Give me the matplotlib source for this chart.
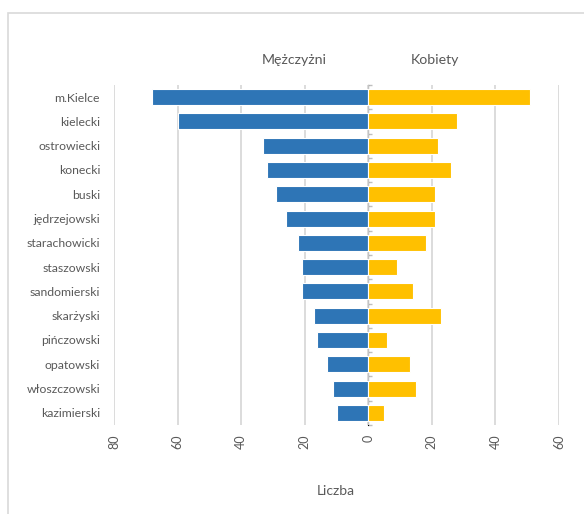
import numpy as np
import matplotlib.pyplot as plt
from matplotlib.patches import Rectangle
from matplotlib.ticker import FuncFormatter

powiaty = ['m.Kielce', 'kielecki', 'ostrowiecki', 'konecki', 'buski',
           'jędrzejowski', 'starachowicki', 'staszowski', 'sandomierski',
           'skarżyski', 'pińczowski', 'opatowski', 'włoszczowski', 'kazimierski']
mezczyzni = [68, 60, 33, 32, 29, 26, 22, 21, 21, 17, 16, 13, 11, 10]
kobiety = [51, 28, 22, 26, 21, 21, 18, 9, 14, 23, 6, 13, 15, 5]
x_ticks = [-80, -60, -40, -20, 0, 20, 40, 60]

grey_txt = '#595959'
plt.rcParams['font.family'] = ['Lato', 'DejaVu Sans']

fig = plt.figure(figsize=(5.84, 5.14), dpi=100)
# ramka wykresu (obcieta z prawej i z dolu)
fig.patches.append(Rectangle((8 / 584, -0.05), 1.1, 1 - 13 / 514 + 0.05,
                             transform=fig.transFigure, fill=False,
                             edgecolor='#D9D9D9', linewidth=1.2))

ax = fig.add_axes([114 / 584, 1 - 425 / 514, (559 - 114) / 584, (425 - 85) / 514])

y = np.arange(len(powiaty))
ax.barh(y, [-m for m in mezczyzni], height=0.66, color='#2E75B6',
        edgecolor='white', linewidth=0.8, zorder=3)
ax.barh(y, kobiety, height=0.66, color='#FFC000',
        edgecolor='white', linewidth=0.8, zorder=3)

ax.set_xlim(-80, 60)
ax.set_ylim(len(powiaty) - 0.5, -0.5)
ax.set_xticks(x_ticks)
ax.xaxis.set_major_formatter(FuncFormatter(lambda v, p: '%d' % abs(v)))
ax.tick_params(axis='x', length=0, labelrotation=90, labelsize=9,
               labelcolor=grey_txt, pad=7)
ax.set_yticks(y, powiaty)
ax.tick_params(axis='y', length=0, labelsize=8.8, labelcolor=grey_txt, pad=10)
ax.grid(axis='x', color='#D9D9D9', linewidth=1.3, zorder=0)
for s in ax.spines.values():
    s.set_visible(False)

# os pionowa w zerze z malymi kreskami
sec = ax.secondary_yaxis(80 / 140)
sec.set_yticks(np.arange(len(powiaty) + 1) - 0.5, labels=[])
sec.tick_params(length=3, color='#BFBFBF', width=1)
sec.spines['left'].set_color('#BFBFBF')
sec.spines['left'].set_linewidth(1.3)

fig.text(294 / 584, 1 - 60 / 514, 'Mężczyżni', ha='center', va='center',
         fontsize=10.2, color=grey_txt)
fig.text(435 / 584, 1 - 60 / 514, 'Kobiety', ha='center', va='center',
         fontsize=10.2, color=grey_txt)
fig.text(336 / 584, 1 - 491 / 514, 'Liczba', ha='center', va='center',
         fontsize=10, color=grey_txt)

fig.savefig('out.png', dpi=100)
